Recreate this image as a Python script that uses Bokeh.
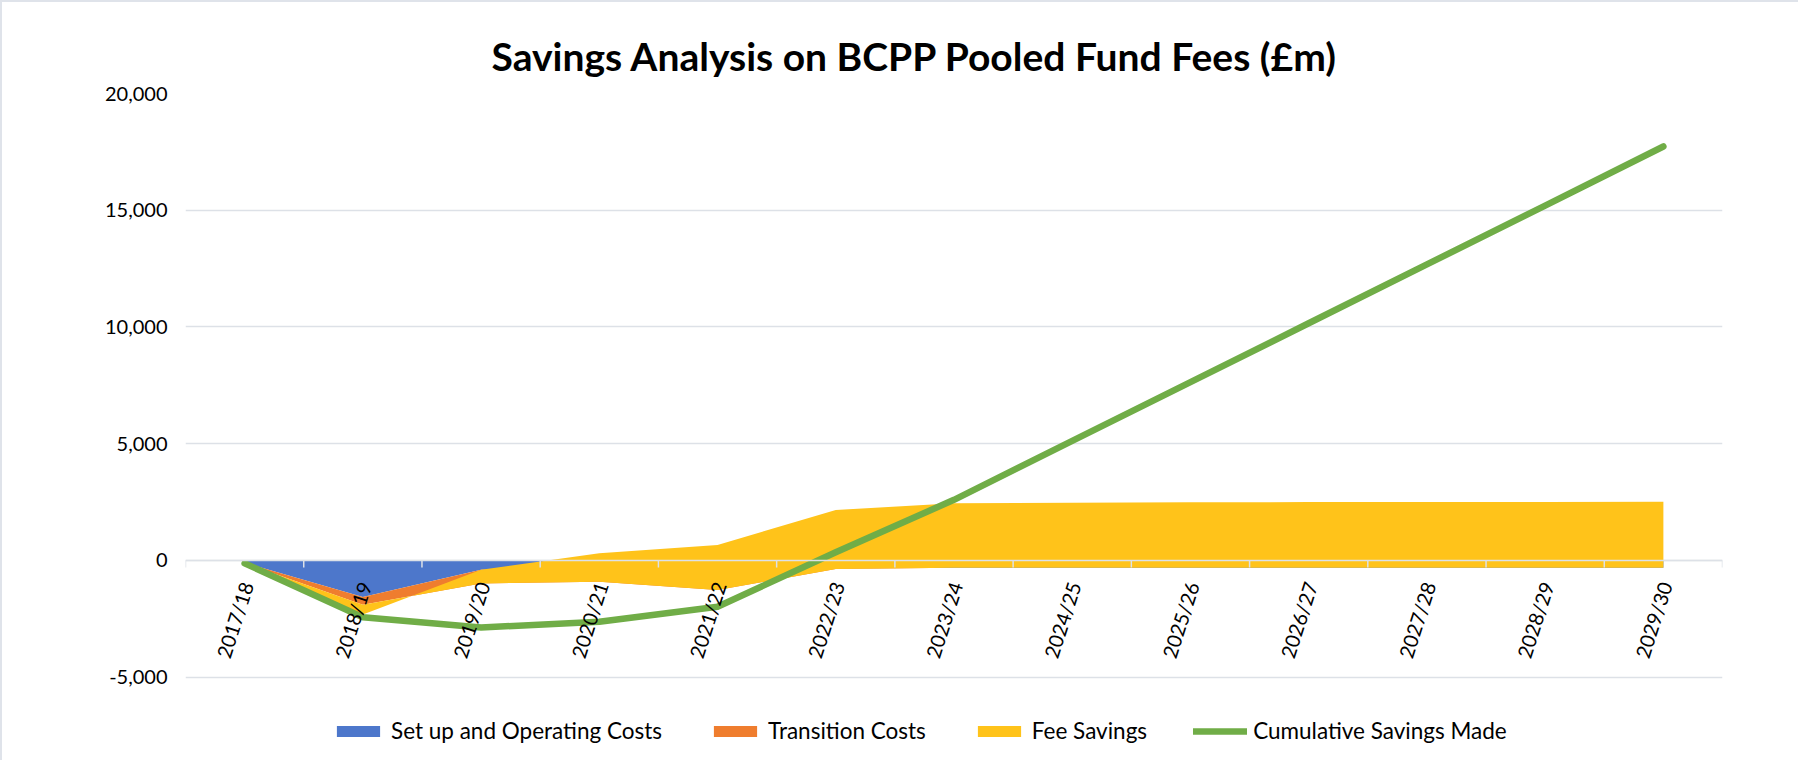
import numpy as np
from bokeh.plotting import figure
from bokeh.models import (ColumnDataSource, FixedTicker, Legend, LegendItem,
                          NumeralTickFormatter, Range1d, Span)
from bokeh.core.properties import value
from bokeh.embed import file_html
from bokeh.resources import INLINE

# ---- data (£m) ----
years = ["2017/18", "2018/19", "2019/20", "2020/21", "2021/22", "2022/23", "2023/24",
         "2024/25", "2025/26", "2026/27", "2027/28", "2028/29", "2029/30"]
setup_operating_costs = [-100, -1560, -400, -380, -350, -330, -310, -310, -310, -310, -310, -310, -310]
transition_costs = [-20, -340, -580, -530, -916, -35, 0, 0, 0, 0, 0, 0, 0]
fee_savings = [0, -410, 585, 1215, 1930, 2530, 2760, 2780, 2800, 2810, 2815, 2820, 2830]
cumulative_savings = [-120, -2430, -2870, -2620, -1980, 350, 2600, 5120, 7640, 10160, 12680, 15200, 17730]

y_ticks = [-5000, 0, 5000, 10000, 15000, 20000]

n = len(years)
idx = list(range(n))
s1 = np.array(setup_operating_costs, dtype=float)
s2 = s1 + np.array(transition_costs, dtype=float)
s3 = s2 + np.array(fee_savings, dtype=float)

src = ColumnDataSource(dict(x=idx, zero=[0.0] * n, s1=s1, s2=s2, s3=s3,
                            cum=cumulative_savings, label=years))

FONT = "Lato"
GRID = "#dde1e7"

W, H = 1798, 760
BL, BR, BT, BB = 183, 78, 91, 0
frame_h = H - BT - BB - 2          # css border takes 2px
axis_px = 582.0                    # pixel height of the -5,000 .. 20,000 span
units_per_px = (y_ticks[-1] - y_ticks[0]) / axis_px
y_bottom = y_ticks[-1] - frame_h * units_per_px   # frame extends below -5,000 to hold the legend

p = figure(width=W, height=H, output_backend="svg", toolbar_location=None,
           x_range=Range1d(-0.5, n - 0.5), y_range=Range1d(y_bottom, y_ticks[-1]),
           min_border_left=BL, min_border_right=BR, min_border_top=BT,
           min_border_bottom=BB)
p.outline_line_color = None
p.background_fill_color = "white"
p.border_fill_color = "white"

# title
p.title.text = "Savings Analysis on BCPP Pooled Fund Fees (£m)"
p.title.text_font = FONT
p.title.text_font_style = "bold"
p.title.text_font_size = "39px"
p.title.align = "left"
p.title.offset = 306
p.title.standoff = 29
p.title.text_color = "#000000"

# areas (stacked)
r_blue = p.varea(x="x", y1="zero", y2="s1", source=src, fill_color="#4d77cb")
r_orange = p.varea(x="x", y1="s1", y2="s2", source=src, fill_color="#ef7d2e")
r_yellow = p.varea(x="x", y1="s2", y2="s3", source=src, fill_color="#ffc31a")

# category axis drawn at zero (Excel style: axis crosses at 0)
p.add_layout(Span(location=0, dimension="width", line_color=GRID, line_width=1.5))
bounds = [i - 0.5 for i in range(n + 1)]
p.segment(x0=bounds, y0=[0] * len(bounds), x1=bounds,
          y1=[-7 * units_per_px] * len(bounds), line_color=GRID, line_width=1.5)

r_line = p.line(x="x", y="cum", source=src, line_color="#70ad47", line_width=6.5,
                line_cap="round", line_join="round")

p.text(x="x", y="zero", text="label", source=src, angle=1.26,
       text_align="right", text_baseline="middle", x_offset=2, y_offset=22,
       text_font=value(FONT), text_font_size="20px", text_color="#000000")

# y axis
p.yaxis.ticker = FixedTicker(ticks=y_ticks)
p.yaxis.formatter = NumeralTickFormatter(format="0,0")
p.yaxis.axis_line_color = None
p.yaxis.major_tick_line_color = None
p.yaxis.minor_tick_line_color = None
p.yaxis.major_tick_out = 0
p.yaxis.major_tick_in = 0
p.yaxis.major_label_standoff = 18
p.yaxis.major_label_text_font = FONT
p.yaxis.major_label_text_font_size = "20px"
p.yaxis.major_label_text_color = "#000000"

p.ygrid.ticker = FixedTicker(ticks=y_ticks)
p.ygrid.grid_line_color = GRID
p.ygrid.grid_line_width = 1.5
p.xgrid.grid_line_color = None
p.xaxis.visible = False

legend = Legend(items=[
    LegendItem(label="Set up and Operating Costs", renderers=[r_blue]),
    LegendItem(label="Transition Costs", renderers=[r_orange]),
    LegendItem(label="Fee Savings", renderers=[r_yellow]),
    LegendItem(label="Cumulative Savings Made", renderers=[r_line]),
], orientation="horizontal", location=(146, 18))
legend.label_text_font = FONT
legend.label_text_font_size = "22.5px"
legend.label_text_color = "#000000"
legend.glyph_width = 54
legend.glyph_height = 14
legend.label_standoff = 6
legend.spacing = 46
legend.padding = 0
legend.margin = 0
legend.border_line_color = None
legend.background_fill_alpha = 0
p.add_layout(legend, "center")

p.styles = {"border-left": "2px solid #dfe3ea", "border-top": "2px solid #dfe3ea"}

open("out.html", "w").write(file_html(p, INLINE))
